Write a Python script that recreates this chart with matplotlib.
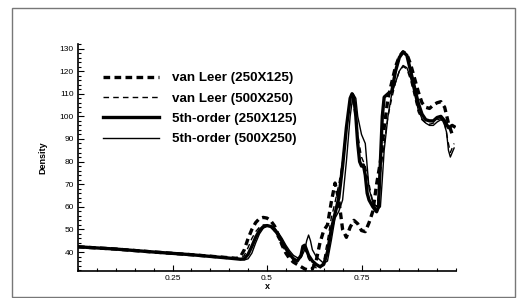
import matplotlib
matplotlib.use('Agg')
import matplotlib.pyplot as plt
from matplotlib.patches import Rectangle
from matplotlib.ticker import MultipleLocator, FixedLocator, FixedFormatter

plt.rcParams['font.family'] = ['Liberation Sans', 'DejaVu Sans']

# van Leer (250X125)
vl1_x = [0.0, 0.1, 0.2, 0.3, 0.42, 0.43, 0.44, 0.45, 0.46, 0.47, 0.48, 0.49, 0.50, 0.51, 0.52,
         0.53, 0.54, 0.55, 0.56, 0.57, 0.58, 0.59, 0.60, 0.61, 0.62, 0.63, 0.64, 0.65, 0.66,
         0.67, 0.68, 0.69, 0.70, 0.71, 0.72, 0.73, 0.74, 0.75, 0.76, 0.77, 0.78, 0.79, 0.80,
         0.81, 0.82, 0.83, 0.84, 0.85, 0.86, 0.87, 0.88, 0.89, 0.90, 0.91, 0.92, 0.93, 0.94,
         0.95, 0.96, 0.97, 0.98, 0.99, 0.995]
vl1_y = [42.3, 41.3, 40.0, 38.8, 37.2, 38.0, 41.0, 46.0, 50.0, 53.0, 54.8, 55.3, 55.0, 53.8, 51.5,
         47.5, 43.0, 39.5, 37.0, 35.5, 34.5, 33.5, 32.5, 32.0, 32.5, 36.0, 44.0, 49.5, 52.0,
         62.0, 70.5, 63.0, 50.0, 46.5, 51.0, 54.0, 52.5, 49.5, 49.0, 53.0, 58.0, 70.0, 80.0,
         95.0, 108.0, 115.0, 122.0, 126.5, 128.5, 127.5, 123.0, 117.0, 111.0, 106.0, 104.0, 103.5, 105.0,
         106.0, 106.5, 104.0, 97.0, 92.0, 91.0]

# van Leer (500X250)
vl2_x = [0.0, 0.1, 0.2, 0.3, 0.42, 0.43, 0.44, 0.45, 0.46, 0.47, 0.48, 0.49, 0.50, 0.51, 0.52,
         0.53, 0.54, 0.55, 0.56, 0.57, 0.58, 0.59, 0.595, 0.60, 0.61, 0.62, 0.63, 0.64, 0.65,
         0.66, 0.67, 0.68, 0.69, 0.70, 0.71, 0.72, 0.725, 0.73, 0.74, 0.75, 0.76, 0.77, 0.78,
         0.79, 0.795, 0.80, 0.81, 0.82, 0.83, 0.84, 0.85, 0.86, 0.87, 0.88, 0.89, 0.90, 0.91,
         0.92, 0.93, 0.94, 0.95, 0.96, 0.97, 0.98, 0.985, 0.99, 0.995]
vl2_y = [42.3, 41.3, 40.0, 38.8, 37.2, 37.0, 38.5, 42.0, 46.0, 49.0, 51.0, 52.0, 52.0, 51.0, 49.0,
         46.0, 43.0, 40.0, 38.0, 36.5, 36.0, 39.0, 42.0, 41.5, 37.0, 34.5, 33.0, 32.5, 36.0,
         45.0, 55.0, 62.0, 70.0, 80.0, 95.0, 107.0, 108.0, 104.0, 92.0, 82.0, 78.0, 70.0, 62.0,
         60.0, 65.0, 75.0, 88.0, 100.0, 108.0, 115.0, 120.0, 122.0, 121.0, 116.0, 109.0, 102.0, 98.5,
         97.0, 96.5, 97.0, 98.5, 99.0, 97.0, 88.0, 84.0, 86.0, 88.0]

# 5th-order (250X125)
fo1_x = [0.0, 0.1, 0.2, 0.3, 0.4, 0.43, 0.44, 0.45, 0.46, 0.47, 0.48, 0.49, 0.50, 0.51, 0.52,
         0.53, 0.54, 0.55, 0.56, 0.57, 0.58, 0.59, 0.595, 0.60, 0.61, 0.62, 0.63, 0.64, 0.65,
         0.66, 0.67, 0.68, 0.69, 0.70, 0.71, 0.72, 0.725, 0.73, 0.735, 0.74, 0.745, 0.75, 0.755,
         0.76, 0.765, 0.77, 0.78, 0.79, 0.795, 0.80, 0.805, 0.81, 0.82, 0.83, 0.84, 0.85, 0.86,
         0.87, 0.88, 0.89, 0.90, 0.91, 0.92, 0.93, 0.94, 0.95, 0.96, 0.97, 0.98, 0.99, 0.995]
fo1_y = [42.3, 41.3, 40.0, 38.8, 37.3, 36.8, 37.0, 39.0, 42.5, 46.5, 49.5, 51.2, 51.7, 51.3, 50.0,
         47.5, 44.5, 41.5, 39.0, 37.0, 36.0, 38.5, 42.5, 43.0, 38.5, 36.0, 34.5, 33.5, 34.5,
         40.0, 50.0, 57.0, 64.0, 78.0, 95.0, 108.0, 110.0, 108.0, 100.0, 88.0, 80.0, 78.0, 78.5,
         74.0, 66.0, 63.0, 60.0, 57.8, 60.0, 80.0, 100.0, 108.5, 110.0, 111.0, 120.0, 126.0, 128.5,
         127.0, 120.0, 113.0, 106.0, 101.0, 98.5, 98.0, 98.0, 99.5, 100.0, 98.0, 95.0, 96.0, 95.5]

# 5th-order (500X250)
fo2_x = [0.0, 0.1, 0.2, 0.3, 0.4, 0.44, 0.45, 0.46, 0.47, 0.48, 0.49, 0.50, 0.51, 0.52, 0.53,
         0.54, 0.55, 0.56, 0.57, 0.58, 0.59, 0.60, 0.605, 0.61, 0.615, 0.62, 0.63, 0.64, 0.65,
         0.66, 0.67, 0.68, 0.69, 0.70, 0.71, 0.72, 0.728, 0.735, 0.74, 0.75, 0.755, 0.76, 0.765,
         0.77, 0.78, 0.79, 0.80, 0.805, 0.81, 0.82, 0.83, 0.84, 0.85, 0.86, 0.87, 0.88, 0.89,
         0.90, 0.91, 0.92, 0.93, 0.94, 0.95, 0.96, 0.965, 0.97, 0.975, 0.98, 0.985, 0.99, 0.995]
fo2_y = [42.3, 41.3, 40.0, 38.8, 37.3, 36.5, 37.0, 39.5, 44.0, 48.0, 50.5, 51.5, 51.5, 50.5, 48.5,
         46.0, 43.0, 40.5, 38.5, 37.5, 37.5, 41.0, 45.0, 47.5, 45.0, 41.0, 38.0, 36.5, 35.0,
         36.0, 45.0, 55.0, 58.0, 63.0, 80.0, 100.0, 110.0, 108.0, 100.0, 92.0, 90.0, 88.0, 78.0,
         68.0, 62.0, 58.5, 60.0, 72.0, 85.0, 100.0, 110.0, 115.0, 120.0, 122.5, 121.5, 117.0, 110.0,
         103.0, 99.0, 97.0, 96.0, 96.0, 97.5, 98.5, 98.0, 96.0, 93.0, 85.0, 82.0, 84.0, 86.0]

labels = ['van Leer (250X125)', 'van Leer (500X250)', '5th-order (250X125)', '5th-order (500X250)']
x_ticks = [0.25, 0.5, 0.75]
x_ticklabels = ['0.25', '0.5', '0.75']
y_ticks = [40, 50, 60, 70, 80, 90, 100, 110, 120, 130]

fig = plt.figure(figsize=(5.17, 2.98), dpi=100)
ax = fig.add_axes([78 / 517, 27 / 298, 378 / 517, 227 / 298])

l1, = ax.plot(vl1_x, vl1_y, color='black', lw=2.4, ls=(0, (2.0, 1.3)))
l2, = ax.plot(vl2_x, vl2_y, color='black', lw=1.0, ls=(0, (4, 3)))
l3, = ax.plot(fo1_x, fo1_y, color='black', lw=2.4)
l4, = ax.plot(fo2_x, fo2_y, color='black', lw=1.0)

ax.set_xlim(0, 1)
ax.set_ylim(31.6, 132)
ax.xaxis.set_major_locator(FixedLocator(x_ticks))
ax.xaxis.set_major_formatter(FixedFormatter(x_ticklabels))
ax.xaxis.set_minor_locator(MultipleLocator(0.05))
ax.yaxis.set_major_locator(FixedLocator(y_ticks))
ax.yaxis.set_minor_locator(MultipleLocator(2))
ax.tick_params(which='both', direction='in', labelsize=6, width=0.8, pad=3)
ax.tick_params(which='major', length=4)
ax.tick_params(which='minor', length=2)
for s in ['top', 'right']:
    ax.spines[s].set_visible(False)
for s in ['left', 'bottom']:
    ax.spines[s].set_linewidth(1.2)

ax.set_xlabel('x', fontsize=6.5, fontweight='bold', labelpad=0)
ax.set_ylabel('Density', fontsize=6.5, fontweight='bold', labelpad=9)

fig.legend([l1, l2, l3, l4], labels, loc='upper left',
           bbox_to_anchor=(103 / 517, 1 - 72 / 298), bbox_transform=fig.transFigure,
           frameon=False, borderpad=0, borderaxespad=0, handlelength=4.2,
           handletextpad=0.95, labelspacing=0.6,
           prop={'size': 9.6, 'weight': 'bold'})

fig.patches.append(Rectangle((12 / 517, 1 / 298), 503 / 517, 289 / 298, transform=fig.transFigure,
                             fill=False, edgecolor='#777777', lw=1.0))

fig.savefig('out.png', dpi=100)
